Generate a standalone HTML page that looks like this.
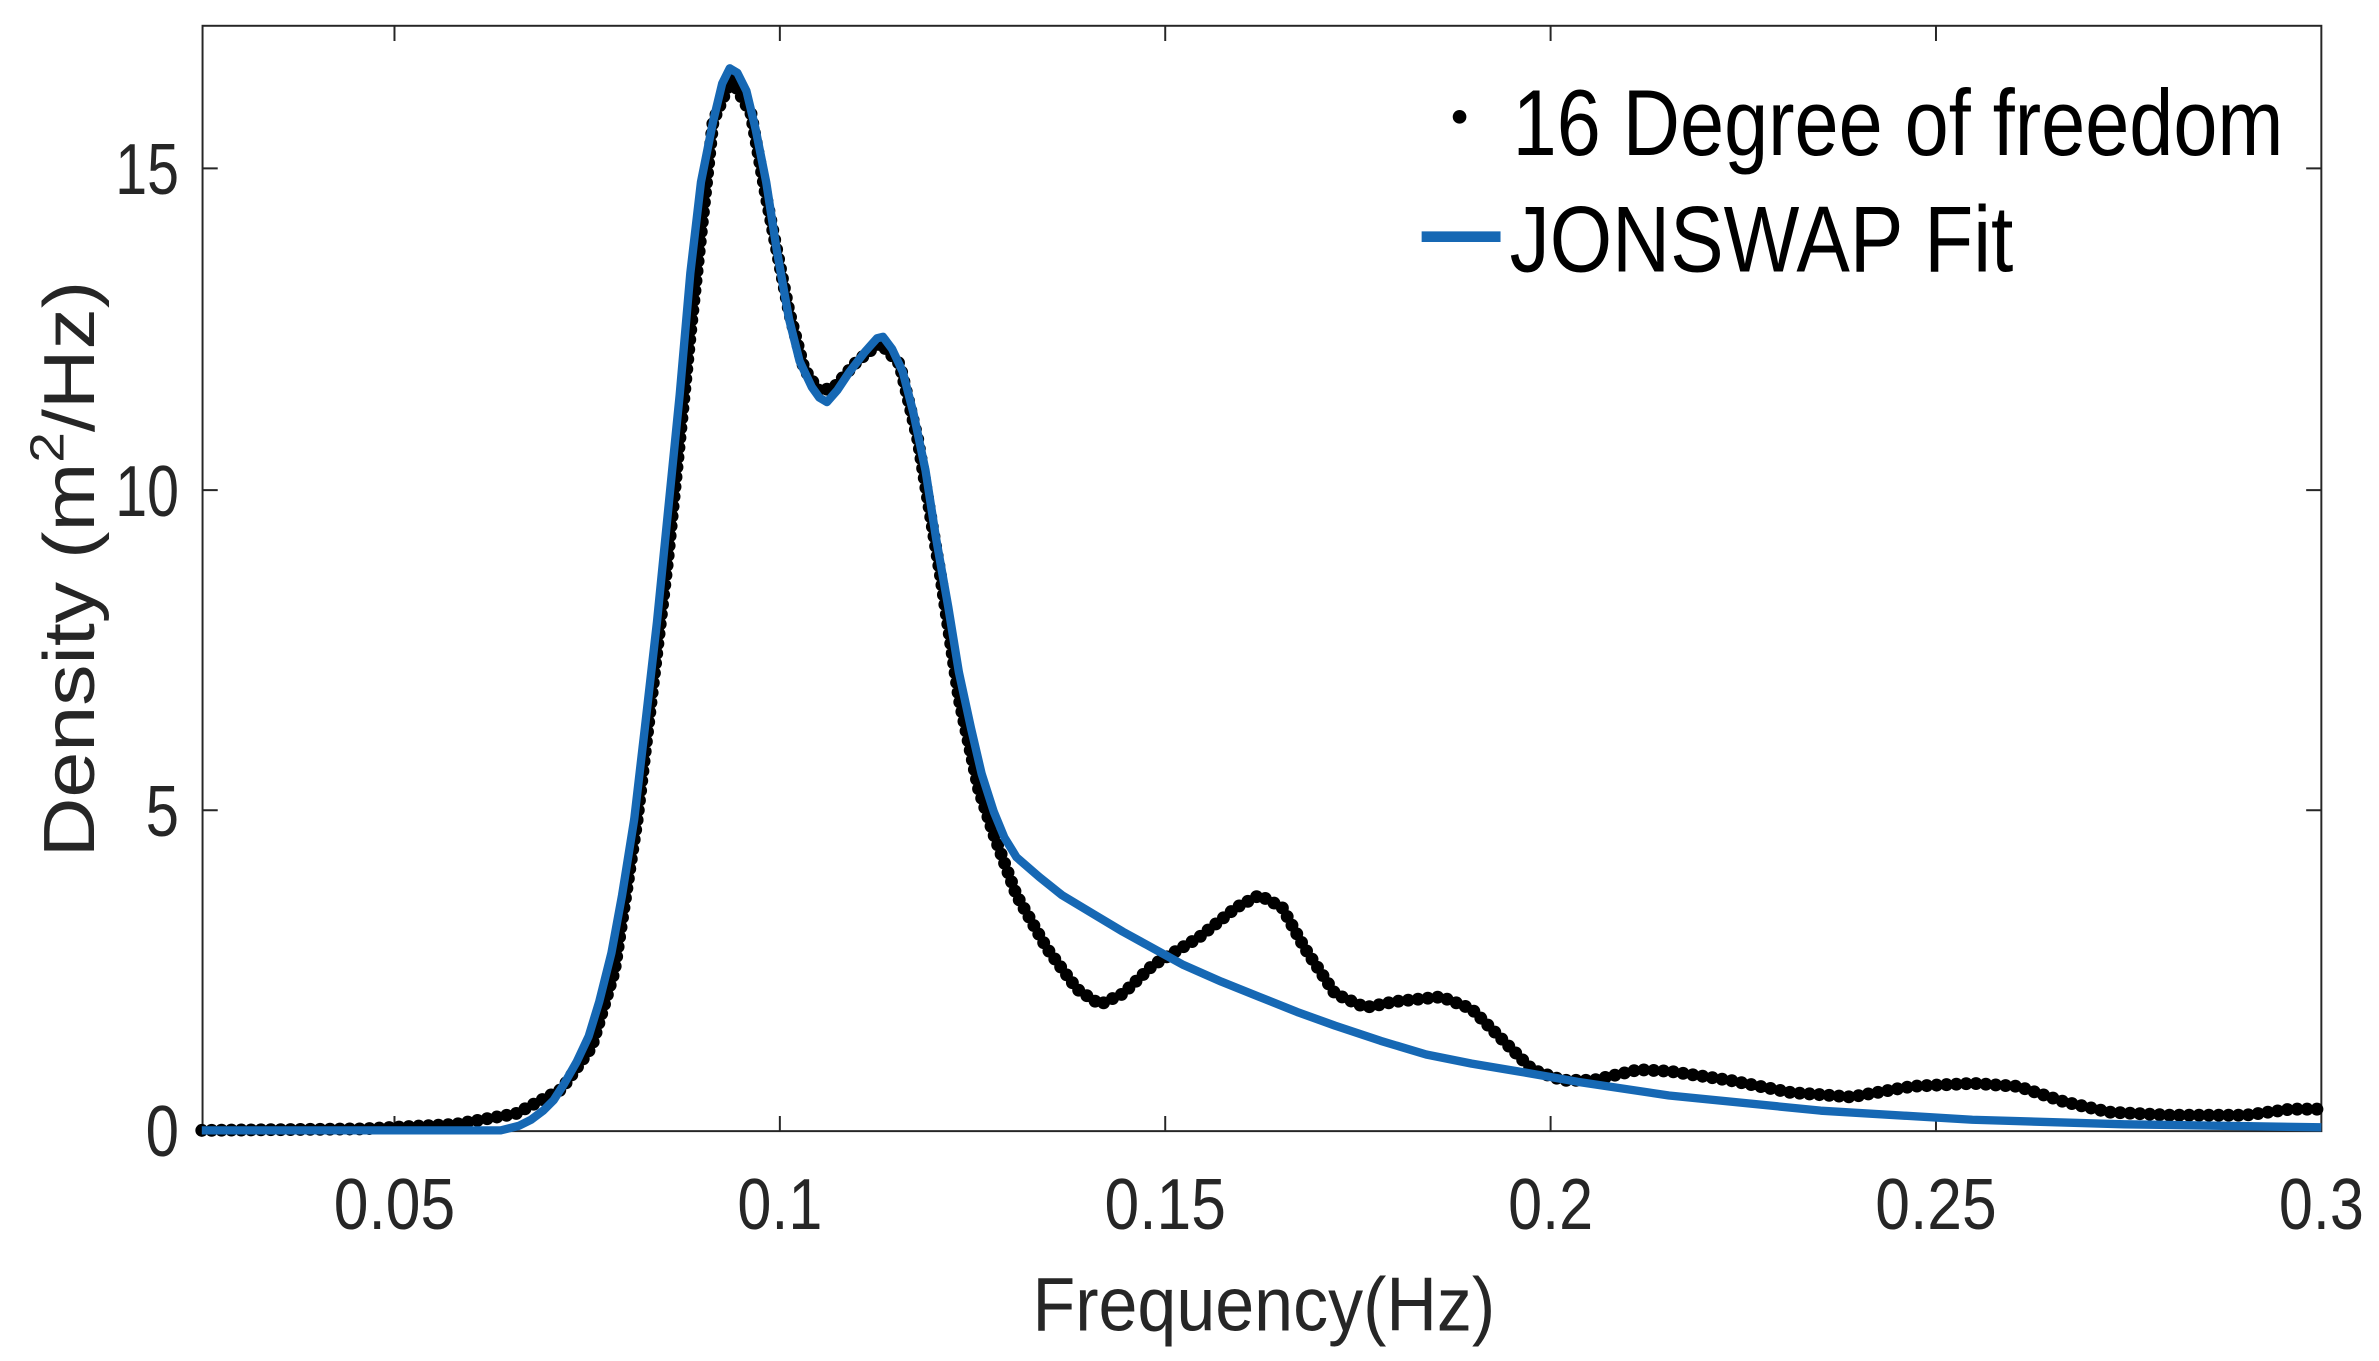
<!DOCTYPE html>
<html><head><meta charset="utf-8"><style>html,body{margin:0;padding:0;background:#fff}svg{display:block}</style></head>
<body>
<svg width="2379" height="1361" viewBox="0 0 1568 897" preserveAspectRatio="none" xmlns="http://www.w3.org/2000/svg" font-family="Liberation Sans, Arial, sans-serif">
<rect x="0" y="0" width="1568" height="897" fill="#fff"/>
<g stroke="#262626" stroke-width="1.3" fill="none">
<rect x="133.5" y="17" width="1396.5" height="728.5"/>
<path d="M260,745.5v-10M514,745.5v-10M768,745.5v-10M1022,745.5v-10M1276,745.5v-10
M260,17v10M514,17v10M768,17v10M1022,17v10M1276,17v10
M133.5,534h10M133.5,323h10M133.5,111h10
M1530,534h-10M1530,323h-10M1530,111h-10"/>
</g>
<!-- black dotted data -->
<path fill="none" stroke="#000" stroke-width="8.5" stroke-linecap="round" stroke-linejoin="round" stroke-dasharray="0 6.5"
d="M133,745 L240,744 L300,741 L340,734 L370,718 L390,690 L405,640 L420,540 L440,370 L455,220 L470,80 L482,52 L495,75 L505,130 L520,205 L530,243 L540,258 L550,255 L565,238 L580,226 L593,240 L605,290 L620,380 L632,460 L645,520 L655,550 L670,590 L690,625 L710,652 L725,662 L740,655 L760,636 L790,618 L815,598 L830,590 L845,598 L860,625 L880,655 L900,664 L920,660 L950,657 L970,665 L990,685 L1010,705 L1030,712 L1050,712 L1080,705 L1100,706 L1140,712 L1180,720 L1220,723 L1260,716 L1300,714 L1330,716 L1360,726 L1390,733 L1430,735 L1480,735 L1510,731 L1530,731"/>
<!-- blue fit -->
<path fill="none" stroke="#1668b4" stroke-width="5.5" stroke-linejoin="round"
d="M133,745 L330,745 L342,742 L350,738 L358,732 L365,725 L372,714 L380,700 L388,683 L395,660 L403,628 L410,590 L418,540 L425,480 L433,410 L440,340 L448,260 L455,180 L462,120 L470,80 L476,55 L481,45 L486,48 L492,60 L498,85 L505,120 L512,165 L520,210 L527,238 L535,255 L540,262 L545,265 L552,257 L560,245 L570,232 L578,223 L582,222 L588,230 L595,245 L602,272 L610,310 L617,355 L625,400 L632,443 L640,480 L647,510 L655,535 L662,552 L670,565 L685,578 L700,590 L720,602 L740,614 L760,625 L780,636 L805,647 L830,657 L855,667 L880,676 L910,686 L940,695 L970,701 L1000,706 L1040,713 L1100,722 L1200,732 L1300,738 L1400,741 L1530,743"/>
<!-- tick labels -->
<g font-size="48" fill="#262626" text-anchor="middle">
<text x="260" y="810" textLength="80" lengthAdjust="spacingAndGlyphs">0.05</text>
<text x="514" y="810" textLength="56" lengthAdjust="spacingAndGlyphs">0.1</text>
<text x="768" y="810" textLength="80" lengthAdjust="spacingAndGlyphs">0.15</text>
<text x="1022" y="810" textLength="56" lengthAdjust="spacingAndGlyphs">0.2</text>
<text x="1276" y="810" textLength="80" lengthAdjust="spacingAndGlyphs">0.25</text>
<text x="1530" y="810" textLength="56" lengthAdjust="spacingAndGlyphs">0.3</text>
</g>
<g font-size="48" fill="#262626" text-anchor="end">
<text x="118" y="762" textLength="22" lengthAdjust="spacingAndGlyphs">0</text>
<text x="118" y="551" textLength="22" lengthAdjust="spacingAndGlyphs">5</text>
<text x="118" y="340" textLength="42" lengthAdjust="spacingAndGlyphs">10</text>
<text x="118" y="128" textLength="42" lengthAdjust="spacingAndGlyphs">15</text>
</g>
<text x="833" y="877" font-size="50" fill="#262626" text-anchor="middle" textLength="305" lengthAdjust="spacingAndGlyphs">Frequency(Hz)</text>
<text transform="translate(62,375) rotate(-90)" font-size="48" fill="#262626" text-anchor="middle" textLength="380" lengthAdjust="spacingAndGlyphs">Density (m<tspan font-size="32" dy="-20">2</tspan><tspan dy="20">/Hz)</tspan></text>
<!-- legend -->
<circle cx="962" cy="77" r="4.5" fill="#000"/>
<text x="997" y="102" font-size="62" fill="#000" textLength="508" lengthAdjust="spacingAndGlyphs">16 Degree of freedom</text>
<line x1="937" y1="156" x2="989" y2="156" stroke="#1668b4" stroke-width="7"/>
<text x="995" y="179" font-size="62" fill="#000" textLength="332" lengthAdjust="spacingAndGlyphs">JONSWAP Fit</text>
</svg>
</body></html>
